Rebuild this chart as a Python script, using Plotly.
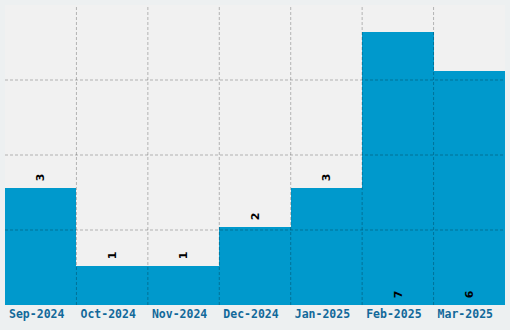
import plotly.graph_objects as go

months = ["Sep-2024", "Oct-2024", "Nov-2024", "Dec-2024", "Jan-2025", "Feb-2025", "Mar-2025"]
counts = [3, 1, 1, 2, 3, 7, 6]
label_pos = ["outside", "outside", "outside", "outside", "outside", "inside", "inside"]

ymax = 7.68
grid_color = "rgba(0,0,0,0.26)"
grid_dash = "3px,2px"

fig = go.Figure(go.Bar(
    x=months, y=counts, width=1,
    marker=dict(color="#0099cc", line=dict(width=0)),
    text=["\u00a0" + str(c) for c in counts],
    textposition=label_pos,
    insidetextanchor="start",
    textangle=-90,
    textfont=dict(family="DejaVu Sans", size=11, color="black", weight="bold"),
    cliponaxis=False,
))

shapes = []
for i in range(len(months) - 1):
    shapes.append(dict(type="line", xref="x", yref="paper", x0=i + 0.5, x1=i + 0.5, y0=0, y1=1,
                       layer="above", line=dict(color=grid_color, width=1, dash=grid_dash)))
for k in range(1, 4):
    shapes.append(dict(type="line", xref="paper", yref="y", x0=0, x1=1, y0=ymax * k / 4, y1=ymax * k / 4,
                       layer="above", line=dict(color=grid_color, width=1, dash=grid_dash)))

fig.update_layout(
    width=510, height=330,
    margin=dict(l=5, r=5, t=5, b=25),
    paper_bgcolor="#edf0f1",
    plot_bgcolor="#f1f1f1",
    showlegend=False,
    bargap=0,
    shapes=shapes,
    uniformtext=dict(minsize=11, mode="show"),
)
fig.update_xaxes(
    type="category", range=[-0.5, 6.5], showgrid=False, zeroline=False, showline=False,
    ticks="", tickangle=0, ticklabelshift=-4,
    tickfont=dict(family="DejaVu Sans Mono", size=11.5, color="#12699a", weight="bold"),
)
fig.update_yaxes(range=[0, ymax], showgrid=False, zeroline=False, showticklabels=False, ticks="")

fig.write_html("out.html")
